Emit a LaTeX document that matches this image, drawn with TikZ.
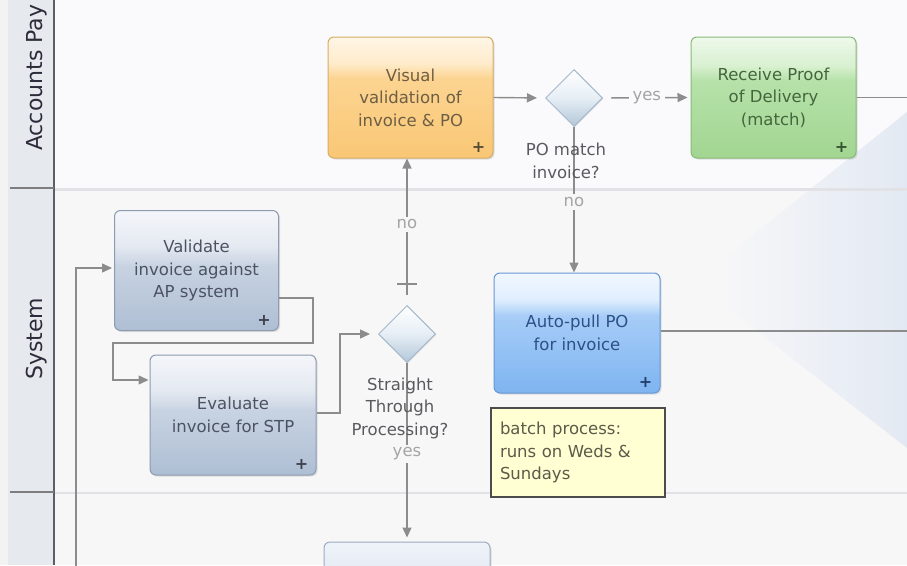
\documentclass[tikz,border=0pt]{standalone}
\usepackage{fontspec}
\setmainfont{DejaVu Sans}
\usetikzlibrary{arrows.meta,shapes.geometric,shadows}

\definecolor{bgtop}{HTML}{FAFAFC}
\definecolor{bgsys}{HTML}{F7F7F8}
\definecolor{marg}{HTML}{F3F3F4}
\definecolor{hdr}{HTML}{E6E9EE}
\definecolor{hdrline}{HTML}{5E5E62}
\definecolor{laneline}{HTML}{E2E2E6}
\definecolor{lineg}{HTML}{8C8C8C}
\definecolor{lblg}{HTML}{A4A4A4}
\definecolor{dtxt}{HTML}{5A5A5E}
\definecolor{lanetx}{HTML}{2C2C3A}
\definecolor{triR}{HTML}{E3E9F3}
% orange
\definecolor{orT}{HTML}{FFF6E6}
\definecolor{orL}{HTML}{FFEBCB}
\definecolor{orM}{HTML}{FCD491}
\definecolor{orB}{HTML}{F9C775}
\definecolor{orD}{HTML}{D7AB66}
\definecolor{orTx}{HTML}{6E5E44}
% green
\definecolor{grT}{HTML}{EEF9EB}
\definecolor{grL}{HTML}{D8F0D0}
\definecolor{grM}{HTML}{B6E2A9}
\definecolor{grB}{HTML}{A2D592}
\definecolor{grD}{HTML}{86BA78}
\definecolor{grTx}{HTML}{44663C}
% gray-blue
\definecolor{gbT}{HTML}{F4F6FA}
\definecolor{gbL}{HTML}{E4E9F1}
\definecolor{gbM}{HTML}{C8D3E2}
\definecolor{gbB}{HTML}{AEBED3}
\definecolor{gbD}{HTML}{8D9BB0}
\definecolor{gbTx}{HTML}{4C5262}
% blue
\definecolor{blT}{HTML}{F1F7FF}
\definecolor{blL}{HTML}{E0EEFD}
\definecolor{blM}{HTML}{A6CCF7}
\definecolor{blB}{HTML}{7EB4F1}
\definecolor{blD}{HTML}{6797D4}
\definecolor{blTx}{HTML}{2C5088}
% diamond
\definecolor{diT}{HTML}{FFFFFF}
\definecolor{diM}{HTML}{E6EEF5}
\definecolor{diB}{HTML}{B3C7D9}
\definecolor{diD}{HTML}{A6B8CA}
% bottom box
\definecolor{boT}{HTML}{EFF3F9}
\definecolor{boB}{HTML}{C9D5E4}
\definecolor{boD}{HTML}{9CACC2}
% note
\definecolor{noteY}{HTML}{FFFFD3}
\definecolor{noteD}{HTML}{4C4C4C}
\definecolor{noteTx}{HTML}{5C5A48}

\pgfdeclareverticalshading{orsh}{100bp}{color(0bp)=(orB); color(25bp)=(orB); color(58bp)=(orM); color(64bp)=(orL); color(75bp)=(orT); color(100bp)=(orT)}
\pgfdeclareverticalshading{grsh}{100bp}{color(0bp)=(grB); color(25bp)=(grB); color(57bp)=(grM); color(63bp)=(grL); color(75bp)=(grT); color(100bp)=(grT)}
\pgfdeclareverticalshading{gbsh}{100bp}{color(0bp)=(gbB); color(25bp)=(gbB); color(52bp)=(gbM); color(60bp)=(gbL); color(75bp)=(gbT); color(100bp)=(gbT)}
\pgfdeclareverticalshading{blsh}{100bp}{color(0bp)=(blB); color(25bp)=(blB); color(57bp)=(blM); color(64bp)=(blL); color(75bp)=(blT); color(100bp)=(blT)}
\pgfdeclareverticalshading{dish}{100bp}{color(0bp)=(diB); color(25bp)=(diB); color(50bp)=(diM); color(75bp)=(diT); color(100bp)=(diT)}
\pgfdeclareverticalshading{bosh}{100bp}{color(0bp)=(boB); color(25bp)=(boB); color(75bp)=(boT); color(100bp)=(boT)}
\pgfdeclarehorizontalshading{trish}{100bp}{color(0bp)=(bgsys); color(25bp)=(bgsys); color(31bp)=(bgsys); color(75bp)=(triR); color(100bp)=(triR)}

\begin{document}
\begin{tikzpicture}[x=1pt,y=-1pt,
  txt/.style={font=\fontsize{16.5}{22.5}\selectfont},
  box/.style={txt, rectangle, rounded corners=6pt, inner sep=0pt, align=center,
    line width=1pt, shade, drop shadow={opacity=0.22, shadow xshift=1.5pt, shadow yshift=-1.5pt}},
  taskA/.style={box, minimum width=165pt, minimum height=121pt},
  taskB/.style={box, minimum width=165pt, minimum height=120pt},
  dia/.style={diamond, minimum width=57pt, minimum height=57pt, inner sep=0pt,
    line width=1pt, shade, shading=dish, draw=diD,
    drop shadow={opacity=0.15, shadow xshift=1pt, shadow yshift=-1pt}},
  dlbl/.style={txt, text=dtxt, align=center, inner sep=0pt},
  lbl/.style={txt, text=lblg, fill=bgsys, inner sep=3pt},
  plus/.style={font=\fontsize{16}{16}\bfseries\selectfont, inner sep=0pt},
  flowline/.style={draw=lineg, line width=1.4pt},
  flow/.style={flowline, -{Triangle[length=10pt,width=9pt]}},
  lane/.style={font=\fontsize{22}{22}\selectfont, text=lanetx, inner sep=0pt},
  note/.style={txt, rectangle, fill=noteY, draw=noteD, line width=1.5pt,
    minimum width=174pt, minimum height=89pt, text width=156pt, inner xsep=9pt,
    align=left, text=noteTx}
]
\useasboundingbox (0,0) rectangle (907,565);

% backgrounds
\fill[bgtop] (55,0) rectangle (907,189);
\fill[bgsys] (55,189) rectangle (907,565);
\shade[shading=trish] (694,282) -- (907,112) -- (907,448) -- cycle;
\draw[laneline, line width=2.5pt] (55,189.5) -- (907,189.5);
\draw[laneline, line width=2.5pt] (55,493) -- (907,493);

% lane header
\fill[marg] (0,0) rectangle (8,565);
\fill[hdr] (8,0) rectangle (53,565);
\draw[hdrline, line width=2pt] (54,0) -- (54,565);
\draw[hdrline!80, line width=2.5pt] (10,188) -- (54,188);
\draw[hdrline!80, line width=2.5pt] (10,492) -- (54,492);
\node[lane, rotate=90, anchor=base west] (lap) at (42,151) {Accounts Pay};
\node[lane, rotate=90, anchor=base west] (lsy) at (42,380) {System};

% tasks
\node[taskA, shading=orsh, draw=orD, text=orTx] (vis) at (410.5,97.5) {Visual\\validation of\\invoice \& PO};
\node[taskA, shading=grsh, draw=grD, text=grTx] (rec) at (773.5,97.5) {Receive Proof\\of Delivery\\(match)};
\node[taskB, shading=gbsh, draw=gbD, text=gbTx, minimum width=164pt] (val) at (196.5,270.5) {Validate\\invoice against\\AP system};
\node[taskB, shading=gbsh, draw=gbD, text=gbTx, minimum width=166pt] (eva) at (233,415) {Evaluate\\invoice for STP};
\node[taskB, shading=blsh, draw=blD, text=blTx, minimum width=166pt] (auto) at (577,333) {Auto-pull PO\\for invoice};
\node[taskB, shading=bosh, draw=boD, minimum width=166pt] (bot) at (407,602) {};

\node[plus, text=orTx!80!black] (pvis) at ([xshift=-15pt,yshift=11pt]vis.south east) {+};
\node[plus, text=grTx!80!black] (prec) at ([xshift=-15pt,yshift=11pt]rec.south east) {+};
\node[plus, text=gbTx!80!black] (pval) at ([xshift=-15pt,yshift=11pt]val.south east) {+};
\node[plus, text=gbTx!80!black] (peva) at ([xshift=-15pt,yshift=11pt]eva.south east) {+};
\node[plus, text=blTx!80!black] (pauto) at ([xshift=-15pt,yshift=11pt]auto.south east) {+};

% gateways
\node[dia] (pod) at (574,98) {};
\node[dia] (stp) at (407,334) {};

% note
\node[note] (nt) at (578,452.5) {batch process:\\runs on Weds \&\\Sundays};

% coordinates
\coordinate (recout) at (907,97.5);
\coordinate (autoout) at (907,331);
\coordinate (loopbot) at (76,570);
\coordinate (b1) at (313,343);
\coordinate (b2) at (113,380);
\coordinate (b3) at (340,334);
\coordinate (tk) at (407,284);

% connectors
\draw[flow, shorten >=8pt] (vis.east) -- (pod.west);
\draw[flow, shorten <=8pt, shorten >=3pt] (pod.east) -- node[lbl, fill=bgtop, inner xsep=4pt] (lyes1) {yes} (rec.west);
\draw[flowline] (rec.east) -- (recout);
\draw[flow] (pod.south) -- node[lbl, pos=0.515] (lno1) {no} (pod.south |- auto.north);
\draw[flow, shorten >=2pt] (loopbot) |- ([yshift=2.5pt]val.west);
\draw[flow, shorten >=1pt] ([yshift=-27.5pt]val.east) -| (b1) -| (b2) -- (eva.west |- b2);
\draw[flow, shorten >=8pt] ([yshift=2pt]eva.east) -| (b3) -- (stp.west);
\draw[flow, shorten <=10pt] (stp.north) -- node[lbl, pos=0.55] (lno2) {no} (stp.north |- vis.south);
\draw[flowline] ([xshift=-10pt]tk) -- ([xshift=10pt]tk);
\draw[flow, shorten >=4pt] (stp.south) -- node[lbl, pos=0.51] (lyes2) {yes} (bot.north);
\draw[flowline] ([yshift=2pt]auto.east) -- (autoout);

% gateway labels
\node[dlbl] (podl) at (566,161) {PO match\\invoice?};
\node[dlbl] (stpl) at (400,408) {Straight\\Through\\Processing?};
\end{tikzpicture}
\end{document}
